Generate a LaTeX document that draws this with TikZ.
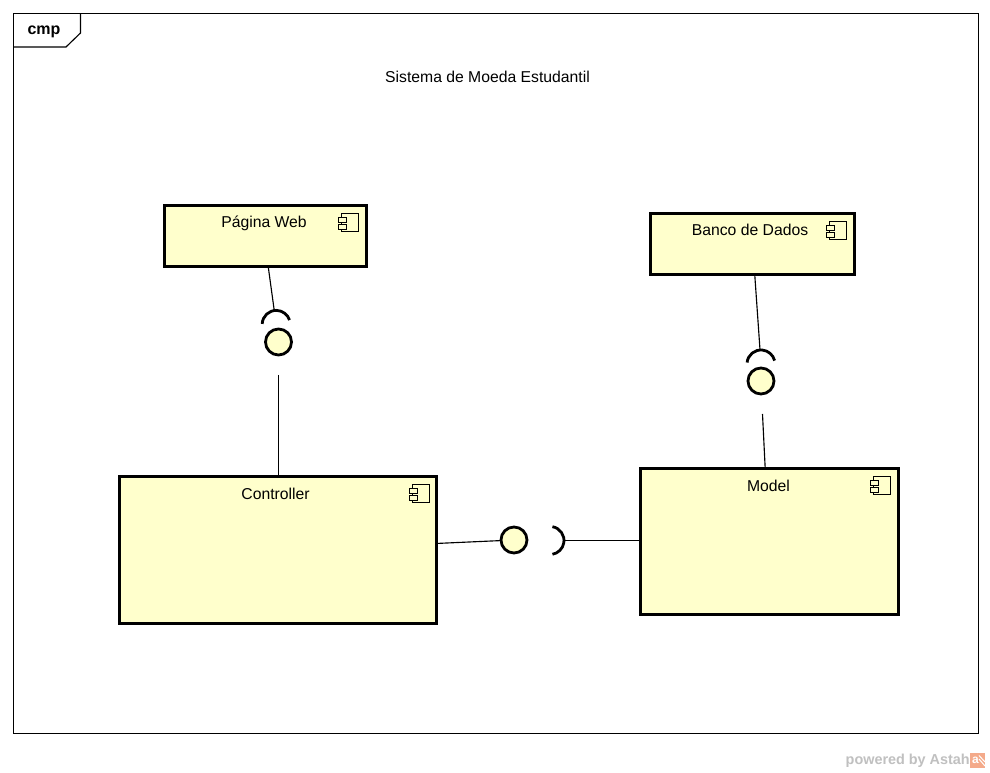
\documentclass[tikz,border=0pt]{standalone}
\usepackage{fontspec}
\setmainfont{Liberation Sans}
\usetikzlibrary{positioning}
\definecolor{compfill}{RGB}{255,255,204}
\definecolor{astahgray}{RGB}{192,192,192}
\definecolor{astahorange}{RGB}{244,170,138}
\newcommand{\socketarc}[2]{%
  \coordinate (#1top) at ([shift={(#2:14)}]#1);
  \draw[socketline] ([shift={(#2+80:14)}]#1) arc[start angle=#2+80,end angle=#2-80,radius=14];}

\begin{document}
\begin{tikzpicture}[x=0.75pt,y=0.75pt,every node/.style={font=\fontsize{11.8}{14}\selectfont},
  compbox/.style={rectangle,draw=black,line width=2.25pt,fill=compfill,outer sep=0pt,inner sep=0pt},
  ball/.style={circle,draw,line width=2.1pt,fill=compfill,outer sep=0pt,inner sep=0pt,minimum size=19.5pt},
  socketline/.style={line width=2.1pt},
  wire/.style={line width=0.85pt},
  complabel/.style={inner sep=0pt,anchor=center},
  compicon/.pic={
    \draw[line width=0.75pt,fill=compfill] (-24.5,-8.5) rectangle (-7.5,-26.5);
    \draw[line width=0.75pt,fill=compfill] (-27.5,-12.5) rectangle (-19.5,-17.5);
    \draw[line width=0.75pt,fill=compfill] (-27.5,-19.5) rectangle (-19.5,-24.5);
  }]
\useasboundingbox (0,0) rectangle (990,773);
\fill[white] (0,0) rectangle (990,773);

% frame
\draw[line width=0.85pt] (13.5,39.5) rectangle (978.5,759.5);
\draw[line width=0.85pt] (13.5,726) -- (66,726) -- (80.5,740) -- (80.5,759.5);
\node[font=\fontsize{12}{14}\selectfont\bfseries] (cmp) at (44,741) {cmp};
\node (title) at (487.5,696.5) {Sistema de Moeda Estudantil};

% components
\node[compbox,minimum width=151.5pt,minimum height=45.75pt] (web) at (265.2,537) {};
\node[compbox,minimum width=153pt,minimum height=45.75pt] (banco) at (752.2,529) {};
\node[compbox,minimum width=238pt,minimum height=110.25pt] (controller) at (278,223) {};
\node[compbox,minimum width=193.5pt,minimum height=109.5pt] (model) at (769.2,231.5) {};
\node[complabel] (weblabel) at (264,550) {Página Web};
\node[complabel] (bancolabel) at (750,543) {Banco de Dados};
\node[complabel] (controllerlabel) at (275.5,279) {Controller};
\node[complabel] (modellabel) at (768.5,287) {Model};
\pic at (web.north east) {compicon};
\pic at (banco.north east) {compicon};
\pic at (controller.north east) {compicon};
\pic at (model.north east) {compicon};

% interfaces
\node[ball] (webball) at (278.5,431) {};
\node[ball] (bancoball) at (761,392) {};
\node[ball] (modelball) at (514,233) {};
\coordinate (websock) at (276.2,448.6);
\coordinate (bancosock) at (761,409);
\coordinate (modelsock) at (550,232.5);
\coordinate (webgap) at (278.5,398);
\coordinate (bancogap) at (762.5,359);
\socketarc{websock}{98}
\socketarc{bancosock}{94}
\socketarc{modelsock}{0}

% connectors
\draw[wire] ([xshift=2.25pt]web.south) -- (websocktop);
\draw[wire] (webgap) -- (webgap |- controller.north);
\draw[wire] ([xshift=1.9pt]banco.south) -- (bancosocktop);
\draw[wire] (bancogap) -- ([xshift=-3pt]model.north);
\draw[wire] ([yshift=4.9pt]controller.east) -- (modelball);
\draw[wire] (modelsocktop) -- (model.west |- modelsocktop);

% watermark
\node[anchor=east,inner sep=0pt,text=astahgray,font=\fontsize{10.8}{12}\selectfont\bfseries] (powered) at (970,12.5) {powered by Astah};
\node[anchor=west,inner sep=0pt,fill=astahorange,minimum size=11.25pt,text=white,font=\fontsize{9}{9}\selectfont\bfseries,text depth=0pt] (astahlogo) at (970,12.5) {\hspace*{-3.5pt}a};
\draw[white,line width=0.75pt] (979,17.5) -- (985,11) (979,14) -- (985,7);
\end{tikzpicture}
\end{document}
